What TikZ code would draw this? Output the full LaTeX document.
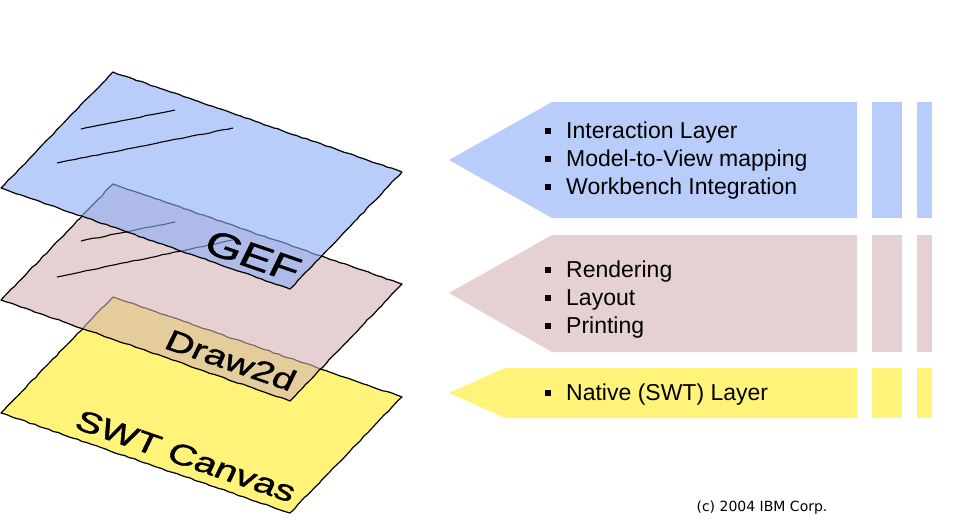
\documentclass[tikz,border=0pt]{standalone}
\usepackage{fontspec}
\setmainfont{Liberation Sans}
\newfontfamily\copyfont{DejaVu Sans}
\newfontfamily\planefont{Liberation Sans}[FakeBold=1.2]
\usetikzlibrary{decorations.pathmorphing}
\definecolor{gefblue}{RGB}{138,172,247}
\definecolor{drawpink}{RGB}{211,178,178}
\definecolor{swtyellow}{RGB}{255,243,122}
\definecolor{gefbluelight}{RGB}{185,205,250}
\definecolor{drawpinklight}{RGB}{229,209,209}
\newcommand{\sqbul}{\rule[5pt]{6pt}{6pt}\hspace{15pt}}
\tikzset{
	layerplane/.style={
			draw=black,
			line width=1.2pt,
			line join=round,
			decorate,
			decoration={random steps, segment length=5pt, amplitude=0.5pt}
		},
	glassplane/.style={
			layerplane,
			fill opacity=0.6
		},
	hatchline/.style={
			draw=black,
			line width=1.1pt,
			decorate,
			decoration={random steps, segment length=6pt, amplitude=0.4pt}
		},
	planelabel/.style={
			rotate=-19,
			xslant=0.12,
			yscale=0.76,
			inner sep=0pt
		},
	featurelist/.style={
			anchor=west,
			align=left,
			inner sep=0pt,
			font=\fontsize{23}{28}\selectfont
		}
}

\begin{document}
\begin{tikzpicture}[x=1pt, y=-1pt]
	\pgfmathsetseed{7}
	\useasboundingbox (0,0) rectangle (953,531);

	% the three stacked layers
	\fill[swtyellow] (113,297) -- (402,397) -- (290,513) -- (1,413) -- cycle;
	\draw[layerplane] (113,297) -- (402,397) -- (290,513) -- (1,413) -- cycle;
	\node[planelabel, font=\planefont\fontsize{39}{39}\selectfont] (swtlabel) at (186,456) {SWT Canvas};

	\draw[glassplane, fill=drawpink] (113,184) -- (402,284) -- (290,401) -- (1,300) -- cycle;
	\draw[hatchline] (81,241) -- (175,222);
	\draw[hatchline] (57,277) -- (233,240);
	\node[planelabel, font=\planefont\fontsize{39}{39}\selectfont] (drawlabel) at (231,360) {Draw2d};

	\draw[glassplane, fill=gefblue] (113,72) -- (402,172) -- (290,289) -- (1,188) -- cycle;
	\draw[hatchline] (81,129) -- (175,110);
	\draw[hatchline] (57,163) -- (233,128);
	\node[planelabel, font=\planefont\fontsize{47}{47}\selectfont] (geflabel) at (253,256) {GEF};

	% arrows with the features of each layer
	\fill[gefbluelight] (449,160) -- (552,102) -- (857,102) -- (857,218) -- (552,218) -- cycle;
	\fill[gefbluelight] (872,102) rectangle (902,218);
	\fill[gefbluelight] (917,102) rectangle (932,218);
	\node[featurelist] (geflist) at (545,161) {\sqbul Interaction Layer\\ \sqbul Model-to-View mapping\\ \sqbul Workbench Integration};

	\fill[drawpinklight] (449,293) -- (552,235) -- (857,235) -- (857,352) -- (552,352) -- cycle;
	\fill[drawpinklight] (872,235) rectangle (902,352);
	\fill[drawpinklight] (917,235) rectangle (932,352);
	\node[featurelist] (drawlist) at (545,300) {\sqbul Rendering\\ \sqbul Layout\\ \sqbul Printing};

	\fill[swtyellow] (449,393) -- (505,368) -- (857,368) -- (857,418) -- (505,418) -- cycle;
	\fill[swtyellow] (872,368) rectangle (902,418);
	\fill[swtyellow] (917,368) rectangle (932,418);
	\node[featurelist] (swtlist) at (545,395) {\sqbul Native (SWT) Layer};

	\node[font=\copyfont\fontsize{14}{16}\selectfont] (copyright) at (762,508) {(c) 2004 IBM Corp.};
\end{tikzpicture}
\end{document}
